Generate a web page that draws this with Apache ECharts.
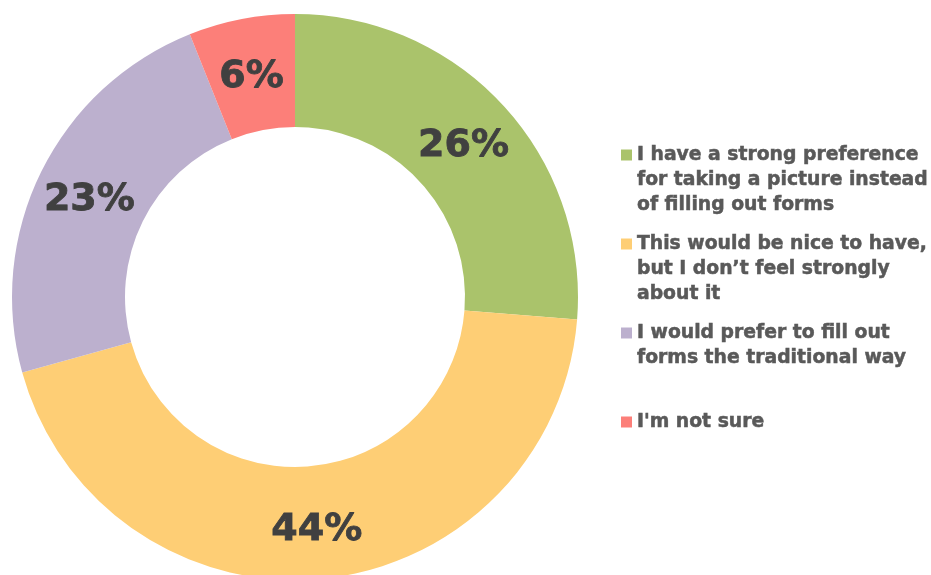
<!DOCTYPE html>
<html>
<head>
<meta charset="utf-8">
<script src="https://cdn.jsdelivr.net/npm/echarts@6/dist/echarts.min.js"></script>
<style>
  html, body { margin: 0; padding: 0; background: #fff; }
  #chart { width: 931px; height: 575px; }
</style>
</head>
<body>
<div id="chart"></div>
<script>
// Survey answers and their shares (percent)
const categories = [
  "I have a strong preference for taking a picture instead of filling out forms",
  "This would be nice to have, but I don\u2019t feel strongly about it",
  "I would prefer to fill out forms the traditional way",
  "I'm not sure"
];
const shares = [26, 44, 23, 6];

// Legend text, broken into lines
const legendLines = [
  ["I have a strong preference", "for taking a picture instead", "of filling out forms"],
  ["This would be nice to have,", "but I don\u2019t feel strongly", "about it"],
  ["I would prefer to fill out", "forms the traditional way"],
  ["I'm not sure"]
];

const colors = ["#AAC36B", "#FECE75", "#BCB0CE", "#FC7F79"];
const fontFamily = "DejaVu Sans, Verdana, sans-serif";
const lineH = 25;
// vertical centre of each legend marker
const markerCenters = [155, 244, 333, 422];

const chart = echarts.init(document.getElementById("chart"), null, { renderer: "canvas" });

// One legend per answer; blank lines above the text keep the marker
// level with the first line (legend text is centred on its marker).
const legends = categories.map((name, i) => {
  const n = legendLines[i].length;
  const blank = new Array(n - 1).fill("");
  const total = 2 * n - 1;
  return {
    data: [name],
    orient: "vertical",
    left: 621,
    top: markerCenters[i] - (total * lineH) / 2,
    padding: 0,
    itemWidth: 11,
    itemHeight: 11,
    itemGap: 5,
    selectedMode: false,
    icon: "rect",
    formatter: () => blank.concat(legendLines[i]).join("\n"),
    textStyle: {
      fontFamily: fontFamily,
      fontWeight: "bold",
      fontSize: 18.8,
      color: "#595959",
      lineHeight: lineH,
      textBorderColor: "#595959",
      textBorderWidth: 0.5
    }
  };
});

chart.setOption({
  animation: false,
  color: colors,
  legend: legends,
  series: [{
    type: "pie",
    center: [295, 297],
    radius: [170, 283],
    startAngle: 90,
    clockwise: true,
    avoidLabelOverlap: false,
    label: {
      show: true,
      position: "inside",
      formatter: p => p.value + "%",
      fontFamily: fontFamily,
      fontWeight: "bold",
      fontSize: 38,
      color: "#404040",
      textBorderColor: "#404040",
      textBorderWidth: 0.8,
      offset: [0, 5]
    },
    labelLine: { show: false },
    emphasis: { disabled: true },
    itemStyle: { borderWidth: 0 },
    data: categories.map((name, i) => ({ name: name, value: shares[i] }))
  }]
});
</script>
</body>
</html>
